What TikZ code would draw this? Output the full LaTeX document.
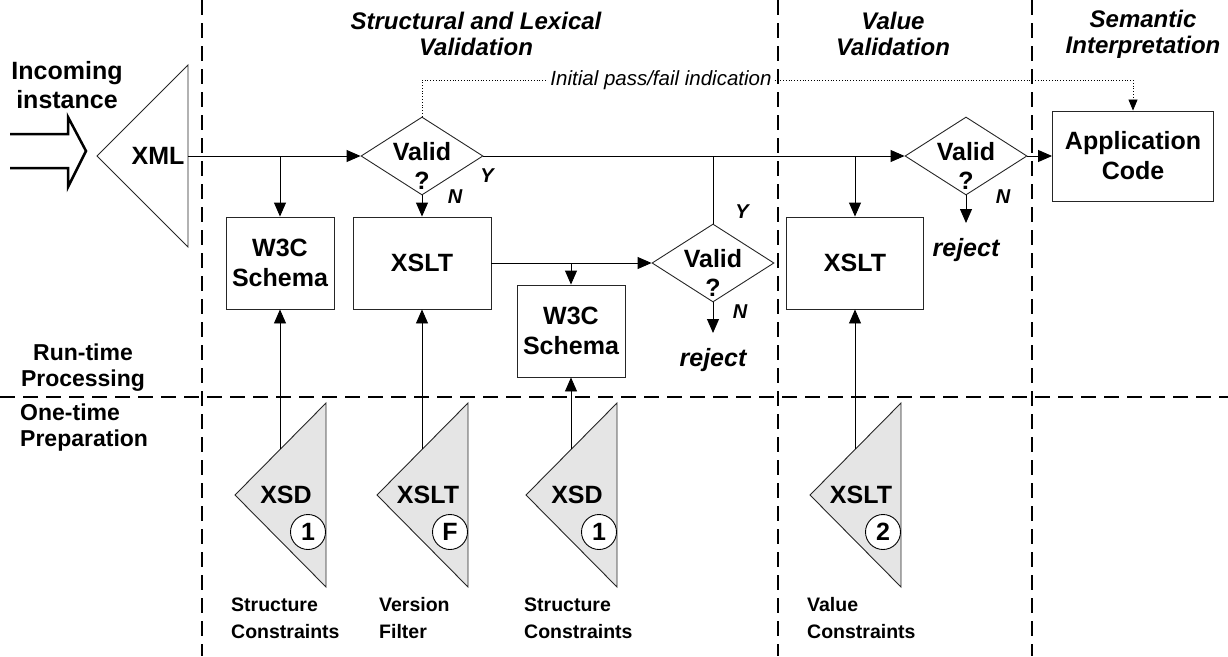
\documentclass[tikz,border=0pt]{standalone}
\usepackage{fontspec}
\setmainfont{Liberation Sans}
\usetikzlibrary{shapes.geometric,arrows.meta}

\tikzset{
  procbox/.style={draw=black!85, line width=0.9pt, minimum width=108pt, minimum height=92pt,
    inner sep=0pt, align=center, font=\bfseries\fontsize{25}{30}\selectfont},
  check/.style={diamond, draw=black!85, line width=0.9pt, minimum width=122pt,
    minimum height=78pt, inner sep=0pt},
  flow/.style={line width=0.9pt, -{Triangle[length=14pt,width=12pt]}},
  info/.style={line width=0.8pt, dotted, -{Triangle[length=11pt,width=9pt]}},
  divider/.style={line width=2.4pt, dash pattern=on 15pt off 8pt},
  bigtxt/.style={inner sep=0pt, align=center, font=\bfseries\fontsize{25}{29}\selectfont},
  hdr/.style={inner sep=0pt, align=center, font=\bfseries\itshape\fontsize{24}{26}\selectfont},
  side/.style={inner sep=0pt, font=\bfseries\fontsize{23}{26}\selectfont},
  lbl/.style={inner sep=0pt, anchor=west, align=left, font=\bfseries\fontsize{19.5}{27}\selectfont},
  yn/.style={inner sep=0pt, font=\bfseries\itshape\fontsize{20}{20}\selectfont},
  rej/.style={inner sep=0pt, font=\bfseries\itshape\fontsize{25}{25}\selectfont},
  srcdoc/.style={draw=black!85, fill=gray!20, line width=0.9pt},
  tag/.style={circle, draw, fill=white, line width=0.9pt, minimum size=35pt, inner sep=0pt,
    font=\bfseries\fontsize{25}{25}\selectfont}
}

\begin{document}
\begin{tikzpicture}[x=1pt,y=-1pt]
  \useasboundingbox (0,0) rectangle (1228,656);

  % lanes
  \draw[divider] (202,0) -- (202,656);
  \draw[divider] (778,0) -- (778,656);
  \draw[divider] (1032,0) -- (1032,656);
  \draw[divider] (0,397) -- (1228,397);

  \node[hdr] (lexical) at (476,34) {Structural and Lexical\\Validation};
  \node[hdr] (value) at (893,34) {Value\\Validation};
  \node[hdr] (semantic) at (1143,34) {Semantic\\Interpretation};
  \node[side, align=center] (runtime) at (83,368) {Run-time\\Processing};
  \node[side, align=left, anchor=west] (onetime) at (20,428) {One-time\\Preparation};

  % incoming instance
  \node[bigtxt] (incoming) at (67,85) {Incoming\\instance};
  \draw[line width=2.5pt] (10,134) -- (68,134) -- (68,117) -- (86,151) -- (68,187)
    -- (68,168) -- (10,168);
  \draw[line width=0.9pt, draw=black!85] (188,65) -- (97,156) -- (188,247) -- cycle;
  \node[bigtxt] (xml) at (158,156) {XML};
  \coordinate (xmlout) at (188,156);

  % checks
  \node[check] (d1) at (422,156) {};
  \node[check] (d2) at (713,263) {};
  \node[check] (d3) at (966,156) {};
  \node[bigtxt] (d1t) at (422,166) {Valid\\?};
  \node[bigtxt] (d2t) at (713,273) {Valid\\?};
  \node[bigtxt] (d3t) at (966,166) {Valid\\?};
  \node[yn] (y1) at (487,176) {Y};
  \node[yn] (n1) at (455,197) {N};
  \node[yn] (y2) at (742,212) {Y};
  \node[yn] (n2) at (740,312) {N};
  \node[yn] (n3) at (1003,197) {N};

  % processors
  \node[procbox] (w3c1) at (280,263) {W3C\\Schema};
  \node[procbox, minimum width=138pt] (xslt1) at (422,263) {XSLT};
  \node[procbox] (w3c2) at (571,331) {W3C\\Schema};
  \node[procbox, minimum width=137pt] (xslt2) at (855,263) {XSLT};
  \node[procbox, minimum width=161pt, minimum height=90pt] (app) at (1133,156) {Application\\Code};

  \coordinate (j1) at (280,156);
  \coordinate (j2) at (713,156);
  \coordinate (j3) at (855,156);
  \coordinate (j4) at (571,263);
  \coordinate (r1) at (713,333);
  \coordinate (r2) at (966,223);
  \node[rej] (rej1) at (713,360) {reject};
  \node[rej] (rej2) at (966,250) {reject};

  \draw[flow] (xmlout) -- (d1.west);
  \draw[flow] (j1) -- (w3c1.north);
  \draw[flow] (d1.south) -- (xslt1.north);
  \draw[flow] (d1.east) -- (d3.west);
  \draw[line width=0.9pt] (d2.north) -- (j2);
  \draw[flow] (j3) -- (xslt2.north);
  \draw[flow] (xslt1.east) -- (d2.west);
  \draw[flow] (j4) -- (w3c2.north);
  \draw[flow] (d2.south) -- (r1);
  \draw[flow] (d3.south) -- (r2);
  \draw[flow] (d3.east) -- (app.west);

  % pass/fail hint
  \coordinate (c1) at (422,80);
  \coordinate (c2) at (1133,80);
  \draw[info] (d1.north) -- (c1) -- (c2) -- (app.north);
  \node[fill=white, inner sep=2pt, font=\itshape\fontsize{20.5}{22}\selectfont] (passfail)
    at (661,80) {Initial pass/fail indication};

  % source documents
  \foreach \c/\doc/\num/\tgt/\nm in {280/XSD/1/w3c1/a, 422/XSLT/F/xslt1/b,
      571/XSD/1/w3c2/c, 855/XSLT/2/xslt2/d}{
    \filldraw[srcdoc] (\c+46,403) -- (\c+46,587) -- (\c-45,495) -- cycle;
    \node[bigtxt] (doc\nm) at (\c+6,495) {\doc};
    \node[tag] (tag\nm) at (\c+28,532) {\num};
    \coordinate (feed\nm) at (\c,449);
    \draw[flow] (feed\nm) -- (\tgt.south);
  }

  \node[lbl] (lbla) at (231,618) {Structure\\Constraints};
  \node[lbl] (lblb) at (379,618) {Version\\Filter};
  \node[lbl] (lblc) at (524,618) {Structure\\Constraints};
  \node[lbl] (lbld) at (807,618) {Value\\Constraints};
\end{tikzpicture}
\end{document}
